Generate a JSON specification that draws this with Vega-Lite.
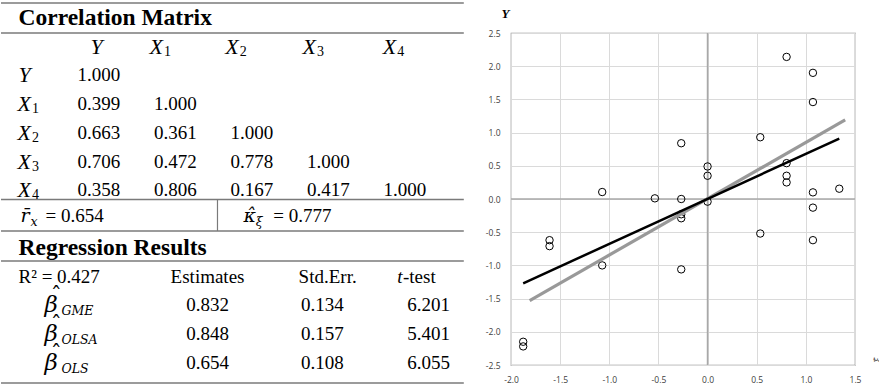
{
  "$schema": "https://vega.github.io/schema/vega-lite/v6.json",
  "padding": 0,
  "spacing": 0,
  "background": "white",
  "config": {"view": {"stroke": null}, "concat": {"spacing": 0}},
  "datasets": {
    "hrules": [
      {"line": -0.522, "from": 0, "to": 6.05},
      {"line": 0.522, "from": 0, "to": 6.05},
      {"line": 6.31, "from": 0, "to": 6.05},
      {"line": 7.41, "from": 0, "to": 6.05},
      {"line": 8.45, "from": 0, "to": 6.05},
      {"line": 12.70, "from": 0, "to": 6.05}
    ],
    "vrules": [{"col": 2.83, "line": 6.31, "line2": 7.41}],
    "tbl": [
      {"line": 0, "col": 0.229, "text": "Correlation Matrix", "kind": "title"},
      {"line": 1, "col": 1.17, "text": "Y", "kind": "var"},
      {"line": 1, "col": 1.94, "text": "X", "kind": "var"},
      {"line": 1, "col": 2.13, "text": "1", "kind": "vsub"},
      {"line": 1, "col": 2.93, "text": "X", "kind": "var"},
      {"line": 1, "col": 3.12, "text": "2", "kind": "vsub"},
      {"line": 1, "col": 3.94, "text": "X", "kind": "var"},
      {"line": 1, "col": 4.13, "text": "3", "kind": "vsub"},
      {"line": 1, "col": 4.99, "text": "X", "kind": "var"},
      {"line": 1, "col": 5.18, "text": "4", "kind": "vsub"},
      {"line": 2, "col": 0.229, "text": "Y", "kind": "var"},
      {"line": 2, "col": 1, "text": "1.000", "kind": "num"},
      {"line": 3, "col": 0.216, "text": "X", "kind": "var"},
      {"line": 3, "col": 0.405, "text": "1", "kind": "vsub"},
      {"line": 3, "col": 1, "text": "0.399", "kind": "num"},
      {"line": 3, "col": 2, "text": "1.000", "kind": "num"},
      {"line": 4, "col": 0.216, "text": "X", "kind": "var"},
      {"line": 4, "col": 0.405, "text": "2", "kind": "vsub"},
      {"line": 4, "col": 1, "text": "0.663", "kind": "num"},
      {"line": 4, "col": 2, "text": "0.361", "kind": "num"},
      {"line": 4, "col": 3, "text": "1.000", "kind": "num"},
      {"line": 5, "col": 0.216, "text": "X", "kind": "var"},
      {"line": 5, "col": 0.405, "text": "3", "kind": "vsub"},
      {"line": 5, "col": 1, "text": "0.706", "kind": "num"},
      {"line": 5, "col": 2, "text": "0.472", "kind": "num"},
      {"line": 5, "col": 3, "text": "0.778", "kind": "num"},
      {"line": 5, "col": 4, "text": "1.000", "kind": "num"},
      {"line": 6, "col": 0.216, "text": "X", "kind": "var"},
      {"line": 6, "col": 0.405, "text": "4", "kind": "vsub"},
      {"line": 6, "col": 1, "text": "0.358", "kind": "num"},
      {"line": 6, "col": 2, "text": "0.806", "kind": "num"},
      {"line": 6, "col": 3, "text": "0.167", "kind": "num"},
      {"line": 6, "col": 4, "text": "0.417", "kind": "num"},
      {"line": 6, "col": 5, "text": "1.000", "kind": "num"},
      {"line": 6.87, "col": 0.255, "text": "r̄", "kind": "math"},
      {"line": 6.87, "col": 0.386, "text": "x", "kind": "msub"},
      {"line": 6.87, "col": 0.582, "text": "= 0.654", "kind": "num"},
      {"line": 6.87, "col": 3.17, "text": "κ̂", "kind": "math"},
      {"line": 6.87, "col": 3.33, "text": "ξ", "kind": "msub"},
      {"line": 6.87, "col": 3.56, "text": "= 0.777", "kind": "num"},
      {"line": 8, "col": 0.229, "text": "Regression Results", "kind": "title"},
      {"line": 9, "col": 0.229, "text": "R² = 0.427", "kind": "num"},
      {"line": 9, "col": 2.7, "text": "Estimates", "kind": "numc"},
      {"line": 9, "col": 4.27, "text": "Std.Err.", "kind": "numc"},
      {"line": 9, "col": 5.18, "text": "t", "kind": "numi"},
      {"line": 9, "col": 5.255, "text": "-test", "kind": "num"},
      {"line": 10, "col": 0.57, "text": "β", "kind": "beta"},
      {"line": 10, "col": 0.65, "text": "ˆ", "kind": "hat"},
      {"line": 10, "col": 0.79, "text": "GME", "kind": "msub"},
      {"line": 10, "col": 2.7, "text": "0.832", "kind": "numc"},
      {"line": 10, "col": 4.2, "text": "0.134", "kind": "numc"},
      {"line": 10, "col": 5.59, "text": "6.201", "kind": "numc"},
      {"line": 11, "col": 0.57, "text": "β", "kind": "beta"},
      {"line": 11, "col": 0.65, "text": "ˆ", "kind": "hat"},
      {"line": 11, "col": 0.79, "text": "OLSA", "kind": "msub"},
      {"line": 11, "col": 2.7, "text": "0.848", "kind": "numc"},
      {"line": 11, "col": 4.2, "text": "0.157", "kind": "numc"},
      {"line": 11, "col": 5.59, "text": "5.401", "kind": "numc"},
      {"line": 12, "col": 0.57, "text": "β", "kind": "beta"},
      {"line": 12, "col": 0.65, "text": "ˆ", "kind": "hat"},
      {"line": 12, "col": 0.79, "text": "OLS", "kind": "msub"},
      {"line": 12, "col": 2.7, "text": "0.654", "kind": "numc"},
      {"line": 12, "col": 4.2, "text": "0.108", "kind": "numc"},
      {"line": 12, "col": 5.59, "text": "6.055", "kind": "numc"}
    ],
    "pts": [
      {"x": 0.804, "y": 2.14}, {"x": 1.072, "y": 1.90}, {"x": 1.072, "y": 1.46},
      {"x": 0.536, "y": 0.93}, {"x": -0.268, "y": 0.84}, {"x": 0, "y": 0.49},
      {"x": 0, "y": 0.35}, {"x": 0.804, "y": 0.54}, {"x": 0.804, "y": 0.35},
      {"x": 0.804, "y": 0.25}, {"x": 1.072, "y": 0.10}, {"x": 1.34, "y": 0.155},
      {"x": -1.072, "y": 0.105}, {"x": -0.536, "y": 0.01}, {"x": -0.268, "y": 0.0},
      {"x": 0, "y": -0.04}, {"x": 1.072, "y": -0.13}, {"x": -0.268, "y": -0.23},
      {"x": -0.268, "y": -0.29}, {"x": 0.536, "y": -0.52}, {"x": 1.072, "y": -0.62},
      {"x": -1.608, "y": -0.62}, {"x": -1.608, "y": -0.71}, {"x": -1.072, "y": -1.00},
      {"x": -0.268, "y": -1.06}, {"x": -1.876, "y": -2.15}, {"x": -1.876, "y": -2.22}
    ],
    "fits": [
      {"fit": "GME", "x": -1.81, "y": -1.53}, {"fit": "GME", "x": 1.40, "y": 1.19},
      {"fit": "OLS", "x": -1.876, "y": -1.27}, {"fit": "OLS", "x": 1.34, "y": 0.91}
    ],
    "vline": [{"x": 0, "y": -2.5, "y2": 2.5}],
    "hline": [{"x": -2, "x2": 1.5, "y": 0}]
  },
  "hconcat": [
    {
      "width": 469,
      "height": 332,
      "view": {"stroke": null},
      "encoding": {
        "x": {"field": "col", "type": "quantitative", "scale": {"domain": [0, 6.131], "nice": false, "zero": false}, "axis": null},
        "y": {"field": "line", "type": "quantitative", "scale": {"domain": [0.522, 12.07], "nice": false, "zero": false, "reverse": true}, "axis": null}
      },
      "layer": [
        {
          "data": {"name": "hrules"},
          "mark": {"type": "rule", "color": "#7a7a7a", "strokeWidth": 1.5},
          "encoding": {
            "x": {"field": "from", "type": "quantitative", "scale": {"domain": [0, 6.131], "nice": false, "zero": false}, "axis": null},
            "x2": {"field": "to"},
            "y": {"field": "line", "type": "quantitative", "scale": {"domain": [0.522, 12.07], "nice": false, "zero": false, "reverse": true}, "axis": null}
          }
        },
        {
          "data": {"name": "vrules"},
          "mark": {"type": "rule", "color": "#7a7a7a", "strokeWidth": 1.2},
          "encoding": {
            "y2": {"field": "line2"}
          }
        },
        {
          "data": {"name": "tbl"},
          "transform": [{"filter": "datum.kind == 'title'"}],
          "mark": {"type": "text", "align": "left", "baseline": "middle", "font": "Liberation Serif", "fontSize": 23.5, "fontWeight": "bold", "color": "#000000"},
          "encoding": {"text": {"field": "text"}}
        },
        {
          "data": {"name": "tbl"},
          "transform": [{"filter": "datum.kind == 'var'"}],
          "mark": {"type": "text", "align": "left", "baseline": "middle", "font": "Liberation Serif", "fontSize": 22, "fontStyle": "italic", "color": "#000000"},
          "encoding": {"text": {"field": "text"}}
        },
        {
          "data": {"name": "tbl"},
          "transform": [{"filter": "datum.kind == 'vsub'"}],
          "mark": {"type": "text", "align": "left", "baseline": "middle", "font": "Liberation Serif", "fontSize": 14, "dy": 5, "color": "#000000"},
          "encoding": {"text": {"field": "text"}}
        },
        {
          "data": {"name": "tbl"},
          "transform": [{"filter": "datum.kind == 'num'"}],
          "mark": {"type": "text", "align": "left", "baseline": "middle", "font": "Liberation Serif", "fontSize": 19, "color": "#000000"},
          "encoding": {"text": {"field": "text"}}
        },
        {
          "data": {"name": "tbl"},
          "transform": [{"filter": "datum.kind == 'numi'"}],
          "mark": {"type": "text", "align": "left", "baseline": "middle", "font": "Liberation Serif", "fontSize": 19, "fontStyle": "italic", "color": "#000000"},
          "encoding": {"text": {"field": "text"}}
        },
        {
          "data": {"name": "tbl"},
          "transform": [{"filter": "datum.kind == 'numc'"}],
          "mark": {"type": "text", "align": "center", "baseline": "middle", "font": "Liberation Serif", "fontSize": 19, "color": "#000000"},
          "encoding": {"text": {"field": "text"}}
        },
        {
          "data": {"name": "tbl"},
          "transform": [{"filter": "datum.kind == 'math'"}],
          "mark": {"type": "text", "align": "left", "baseline": "middle", "font": "DejaVu Serif", "fontSize": 19, "fontStyle": "italic", "color": "#000000"},
          "encoding": {"text": {"field": "text"}}
        },
        {
          "data": {"name": "tbl"},
          "transform": [{"filter": "datum.kind == 'beta'"}],
          "mark": {"type": "text", "align": "left", "baseline": "middle", "font": "DejaVu Serif", "fontSize": 23, "fontStyle": "italic", "dy": 0, "color": "#000000"},
          "encoding": {"text": {"field": "text"}}
        },
        {
          "data": {"name": "tbl"},
          "transform": [{"filter": "datum.kind == 'hat'"}],
          "mark": {"type": "text", "align": "left", "baseline": "middle", "font": "DejaVu Serif", "fontSize": 22, "dy": -9, "color": "#000000"},
          "encoding": {"text": {"field": "text"}}
        },
        {
          "data": {"name": "tbl"},
          "transform": [{"filter": "datum.kind == 'msub'"}],
          "mark": {"type": "text", "align": "left", "baseline": "middle", "font": "DejaVu Serif", "fontSize": 12.5, "fontStyle": "italic", "dy": 6, "color": "#000000"},
          "encoding": {"text": {"field": "text"}}
        }
      ]
    },
    {
      "width": 344,
      "height": 332,
      "view": {"stroke": "#8a8a8a", "strokeWidth": 1.2},
      "encoding": {
        "x": {
          "field": "x", "type": "quantitative",
          "scale": {"domain": [-2, 1.5], "nice": false, "zero": false},
          "axis": {
            "title": "ξ̂", "titleAngle": 270, "titleX": 366, "titleY": -6, "titleAlign": "center", "titleBaseline": "middle",
            "titleFont": "DejaVu Serif", "titleFontSize": 10, "titleFontWeight": "normal", "titleColor": "#555555",
            "values": [-2, -1.5, -1, -0.5, 0, 0.5, 1, 1.5],
            "labelExpr": "replace(format(datum.value, '.1f'), '\u2212', '-')",
            "labelFont": "Open Sans", "labelFontSize": 8.5, "labelColor": "#404040", "labelPadding": 10,
            "labelFlush": false, "labelOverlap": false, "labelBound": false,
            "ticks": false, "domain": false, "grid": true, "gridColor": "#dadada", "gridWidth": 1
          }
        },
        "y": {
          "field": "y", "type": "quantitative",
          "scale": {"domain": [-2.5, 2.5], "nice": false, "zero": false},
          "axis": {
            "title": ["", "Y"], "titleAngle": 0, "titleX": -6, "titleY": -32, "titleAlign": "center", "titleBaseline": "top",
            "titleLineHeight": 6,
            "titleFont": "Liberation Serif", "titleFontSize": 13, "titleFontStyle": "italic", "titleFontWeight": "bold", "titleColor": "#000000",
            "values": [-2.5, -2, -1.5, -1, -0.5, 0, 0.5, 1, 1.5, 2, 2.5],
            "labelExpr": "replace(format(datum.value, '.1f'), '\u2212', '-')",
            "labelFont": "Open Sans", "labelFontSize": 8.5, "labelColor": "#404040", "labelPadding": 11,
            "labelFlush": false, "labelOverlap": false, "labelBound": false,
            "ticks": false, "domain": false, "grid": true, "gridColor": "#dadada", "gridWidth": 1,
            "minExtent": 40, "maxExtent": 40
          }
        }
      },
      "layer": [
        {
          "data": {"name": "vline"},
          "mark": {"type": "rule", "color": "#a8a8a8", "strokeWidth": 1.6},
          "encoding": {"y2": {"field": "y2"}}
        },
        {
          "data": {"name": "hline"},
          "mark": {"type": "rule", "color": "#a8a8a8", "strokeWidth": 1.6},
          "encoding": {"x2": {"field": "x2"}}
        },
        {
          "data": {"name": "pts"},
          "mark": {"type": "point", "shape": "circle", "filled": false, "color": "#000000", "size": 55, "strokeWidth": 1, "opacity": 1}
        },
        {
          "data": {"name": "fits"},
          "transform": [{"filter": "datum.fit == 'GME'"}],
          "mark": {"type": "line", "color": "#999999", "strokeWidth": 3.2}
        },
        {
          "data": {"name": "fits"},
          "transform": [{"filter": "datum.fit == 'OLS'"}],
          "mark": {"type": "line", "color": "#000000", "strokeWidth": 2.5}
        }
      ]
    }
  ]
}
